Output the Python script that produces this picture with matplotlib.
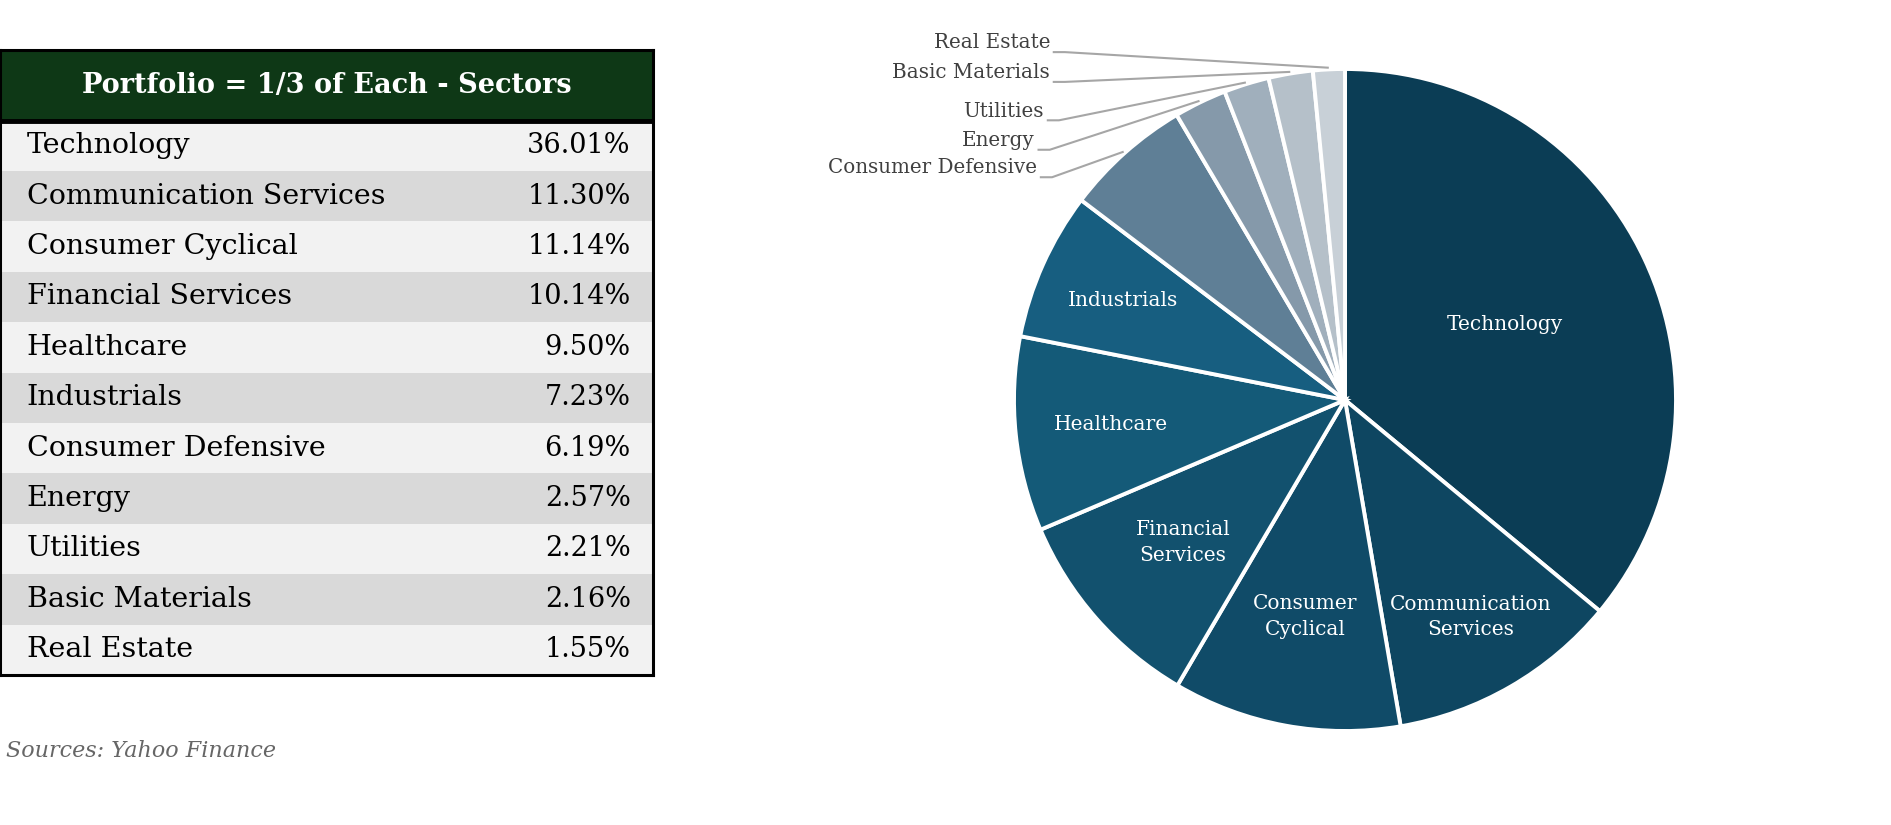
import numpy as np
import matplotlib
matplotlib.use("Agg")
import matplotlib.pyplot as plt

# data
sectors = ["Technology", "Communication Services", "Consumer Cyclical",
           "Financial Services", "Healthcare", "Industrials",
           "Consumer Defensive", "Energy", "Utilities",
           "Basic Materials", "Real Estate"]
weights = [36.01, 11.30, 11.14, 10.14, 9.50, 7.23, 6.19, 2.57, 2.21, 2.16, 1.55]
table_title = "Portfolio = 1/3 of Each - Sectors"
source_note = "Sources: Yahoo Finance"

# styles
pie_colors = ["#0b3d55", "#0e4661", "#104b68", "#12516e", "#145a78", "#175e80",
              "#5f7f96", "#8599aa", "#a0afbc", "#b5c0c9", "#c8d0d7"]
header_green = "#0e3816"
row_light = "#f2f2f2"
row_dark = "#d9d9d9"
serif = "DejaVu Serif"

fig = plt.figure(figsize=(18.91, 8.25), dpi=100)

# ---------------- table (left) ----------------
W, H = 1891, 825
tab = fig.add_axes([0, (H - 675) / H, 653 / W, 625 / H])
n = len(sectors)
head_h = 1.4
ypos = np.arange(n)[::-1] + 0.5
row_cols = [row_light if i % 2 == 0 else row_dark for i in range(n)]
tab.barh(ypos, [1] * n, height=1.0, left=0, color=row_cols, edgecolor="none")
tab.barh([n + head_h / 2], [1], height=head_h, left=0, color=header_green,
         edgecolor="none")
tab.axhline(n, color="black", lw=3.5)
tab.set_xlim(0, 1)
tab.set_ylim(0, n + head_h)
tab.set_xticks([])
tab.set_yticks([])
for s in tab.spines.values():
    s.set_linewidth(2.2)
    s.set_color("black")

tab.text(0.5, n + head_h / 2, table_title, ha="center", va="center",
         color="white", fontsize=19.5, fontweight="bold", family=serif)
for y, name, w in zip(ypos, sectors, weights):
    tab.text(0.041, y, name, ha="left", va="center", fontsize=20.5,
             family=serif, color="black")
    tab.text(0.966, y, f"{w:.2f}%", ha="right", va="center", fontsize=19.5,
             family=serif, color="black")

fig.text(6 / W, 1 - 751 / H, source_note, ha="left", va="center",
         fontsize=16, style="italic", color="#666666", family=serif)

# ---------------- pie (right) ----------------
cx, cy, r = 1345, 400, 331
k = 1.2
ax = fig.add_axes([(cx - r * k) / W, (H - cy - r * k) / H, 2 * r * k / W, 2 * r * k / H])
wedges, _ = ax.pie(weights, colors=pie_colors, startangle=90, counterclock=False,
                   radius=1, wedgeprops=dict(edgecolor="white", linewidth=2.8))
ax.set_xlim(-k, k)
ax.set_ylim(-k, k)

# labels inside the big slices
inside_text = ["Technology", "Communication\nServices", "Consumer\nCyclical",
               "Financial\nServices", "Healthcare", "Industrials"]
inside_dist = [0.535, 0.757, 0.666, 0.651, 0.712, 0.735]
for w, txt, d in zip(wedges, inside_text, inside_dist):
    a = np.deg2rad((w.theta1 + w.theta2) / 2)
    ax.text(d * np.cos(a), d * np.sin(a), txt, ha="center", va="center",
            color="white", fontsize=14.5, family=serif, linespacing=1.45)

# small slices: labels outside with leader lines
outside_pos = {"Consumer Defensive": (-0.930, 0.701),
               "Energy": (-0.937, 0.784),
               "Utilities": (-0.909, 0.873),
               "Basic Materials": (-0.891, 0.989),
               "Real Estate": (-0.891, 1.079)}
for w, name in zip(wedges, sectors):
    if name not in outside_pos:
        continue
    tx, ty = outside_pos[name]
    ax.text(tx, ty, name, ha="right", va="center", color="#404040",
            fontsize=14.3, family=serif)
    a = np.deg2rad((w.theta1 + w.theta2) / 2)
    ex, ey = 1.005 * np.cos(a), 1.005 * np.sin(a)
    ly = ty - 0.028
    ax.plot([tx + 0.008, tx + 0.045, ex], [ly, ly, ey], color="#a6a6a6",
            lw=1.5, clip_on=False, solid_capstyle="butt")

fig.savefig("out.png", dpi=100)
